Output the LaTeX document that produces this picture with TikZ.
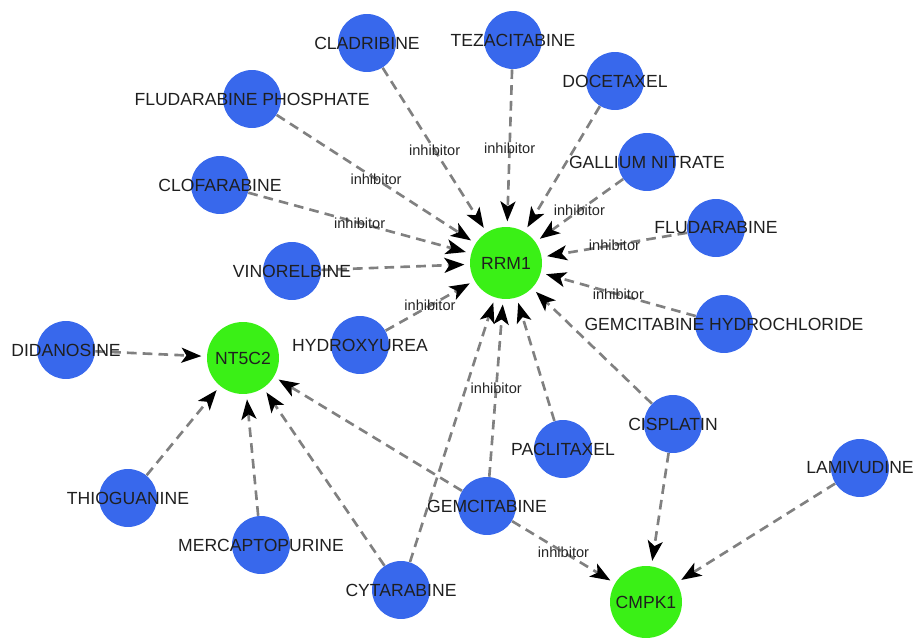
\documentclass[tikz,border=0pt]{standalone}
\usepackage{fontspec}
\setmainfont{Liberation Sans}
\usetikzlibrary{arrows.meta, backgrounds}

\definecolor{drugblue}{RGB}{56,104,236}
\definecolor{genegreen}{RGB}{58,240,22}
\definecolor{edgegray}{RGB}{128,128,128}

\begin{document}
\begin{tikzpicture}[x=0.02cm, y=-0.02cm,
  every label/.style={font=\fontsize{10}{12}\selectfont, text=black!88},
  drug/.style={
  % The shape:
  circle,
  % The size:
  minimum size=1.16cm, inner sep=0pt,
  % The fill
  fill=drugblue, draw=none},
  gene/.style={
  circle,
  minimum size=1.44cm, inner sep=0pt,
  fill=genegreen, draw=none,
  font=\fontsize{10}{12}\selectfont, text=black!88},
  link/.style={edgegray, line width=1.5pt,
  dash pattern=on 5.5pt off 3.5pt, shorten >=3pt,
  -{Stealth[length=4mm, width=3mm, inset=1mm, black]}},
  lbl/.style={font=\fontsize{8.3}{10}\selectfont, text=black!85, inner sep=1pt}]

  \useasboundingbox (0,0) rectangle (914,638);

  % drugs
  \node [drug, label=center:CLADRIBINE] (clad) at (367,43) {};
  \node [drug, label=center:TEZACITABINE] (teza) at (513,40) {};
  \node [drug, label=center:DOCETAXEL] (doce) at (615,81) {};
  \node [drug, label=center:FLUDARABINE PHOSPHATE] (fludp) at (252,99) {};
  \node [drug, label=center:GALLIUM NITRATE] (gall) at (647,162) {};
  \node [drug, label=center:CLOFARABINE] (clof) at (220,185) {};
  \node [drug, label=center:FLUDARABINE] (flud) at (716,228) {};
  \node [drug, label=center:VINORELBINE] (vino) at (292,271) {};
  \node [drug, label=center:HYDROXYUREA] (hydr) at (360,345) {};
  \node [drug, label=center:GEMCITABINE HYDROCHLORIDE] (gemh) at (724,324) {};
  \node [drug, label=center:DIDANOSINE] (dida) at (66,350) {};
  \node [drug, label=center:THIOGUANINE] (thio) at (128,498) {};
  \node [drug, label=center:MERCAPTOPURINE] (merc) at (261,545) {};
  \node [drug, label=center:CYTARABINE] (cyta) at (401,590) {};
  \node [drug, label=center:PACLITAXEL] (pacl) at (563,449) {};
  \node [drug, label=center:CISPLATIN] (cisp) at (673,424) {};
  \node [drug, label=center:LAMIVUDINE] (lami) at (860,468) {};
  \node [drug, label=center:GEMCITABINE] (gemc) at (487,506) {};

  % genes
  \node [gene] (rrm) at (506,263) {RRM1};
  \node [gene] (nt) at (243,358) {NT5C2};
  \node [gene] (cmpk) at (646,602) {CMPK1};

  \begin{pgfonlayer}{background}
  \draw [link] (clad) -- node [lbl] {inhibitor} (rrm);
  \draw [link] (teza) -- node [lbl] {inhibitor} (rrm);
  \draw [link] (doce) -- (rrm);
  \draw [link] (fludp) -- node [lbl] {inhibitor} (rrm);
  \draw [link] (gall) -- node [lbl] {inhibitor} (rrm);
  \draw [link] (clof) -- node [lbl] {inhibitor} (rrm);
  \draw [link] (flud) -- node [lbl] {inhibitor} (rrm);
  \draw [link] (vino) -- (rrm);
  \draw [link] (hydr) -- node [lbl] {inhibitor} (rrm);
  \draw [link] (gemh) -- node [lbl] {inhibitor} (rrm);
  \draw [link] (cisp) -- (rrm);
  \draw [link] (pacl) -- (rrm);
  \draw [link] (gemc) -- node [lbl] {inhibitor} (rrm);
  \draw [link] (cyta) -- (rrm);

  \draw [link] (dida) -- (nt);
  \draw [link] (thio) -- (nt);
  \draw [link] (merc) -- (nt);
  \draw [link] (cyta) -- (nt);
  \draw [link] (gemc) -- (nt);

  \draw [link] (gemc) -- node [lbl] {inhibitor} (cmpk);
  \draw [link] (cisp) -- (cmpk);
  \draw [link] (lami) -- (cmpk);
  \end{pgfonlayer}

\end{tikzpicture}
\end{document}
